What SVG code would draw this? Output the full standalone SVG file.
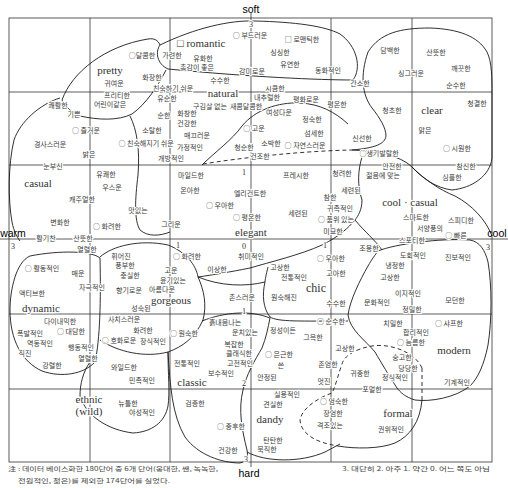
<svg xmlns="http://www.w3.org/2000/svg" width="508" height="488" viewBox="0 0 508 488">
<style>
.g{stroke:#333;stroke-width:0.8;fill:none}
.c{stroke:#1a1a1a;stroke-width:0.9;fill:none}
.d{stroke:#1a1a1a;stroke-width:0.9;fill:none;stroke-dasharray:4 3}
.k{font-family:"Noto Sans CJK KR","Noto Sans",sans-serif;font-size:7px;fill:#3a3a3a;text-anchor:middle;stroke:#fff;stroke-width:2.2;paint-order:stroke;stroke-linejoin:round}
.e{font-family:"Liberation Serif",serif;font-size:11px;fill:#333;text-anchor:middle;stroke:#fff;stroke-width:2.5;paint-order:stroke;stroke-linejoin:round}
.a{font-family:"Liberation Sans",sans-serif;font-size:10.5px;fill:#000;text-anchor:middle}
.n{font-family:"Liberation Serif",serif;font-size:8px;fill:#333;text-anchor:middle;stroke:#fff;stroke-width:2;paint-order:stroke}
.f{font-family:"Noto Sans CJK KR","Noto Sans",sans-serif;font-size:6px;fill:#444}
</style>
<rect width="508" height="488" fill="#fff"/>
<g id="grid">
<rect class="g" x="9" y="18" width="483" height="444"/>
<path class="g" d="M90,18V462M170,18V462M331,18V462M412,18V462M9,92H492M9,165H492M9,314H492M9,389H492"/>
<path class="g" d="M251,13V467M0,239H508" stroke-width="1"/>
</g>
<g id="connectors">
<path id="pretty-line" class="c" d="M62,100 C72,72 105,46 148,39 C154,38 158,40 160,45 M166,70 C158,86 146,104 132,114 C118,121 98,120 80,116 C72,113 66,107 62,100"/>
<path id="casual-line" class="c" d="M60,98 C40,104 20,122 14,140 C8,165 8,200 12,222 C14,232 17,237 20,241 M130,116 C137,130 140,150 138,175 C135,200 134,220 140,230 C148,237 160,236 170,232"/>
<path id="romantic-line" class="c" d="M160,45 C195,28 230,20 255,21 C295,22 325,26 340,34 C357,46 362,68 353,80 C320,80 250,77 168,69 C157,64 155,52 160,45 Z"/>
<path id="clear-line" class="c" d="M368,52 C380,33 400,28 430,28 C458,29 478,36 487,52 C492,62 492,78 492,95 L492,158 C490,176 472,188 452,190 C436,188 422,178 412,167 M368,52 C360,75 362,95 372,108 C380,118 386,128 386,136 C385,144 375,148 352,150"/>
<path id="elegant-top" class="c" d="M202,165 C215,152 232,140 242,126 C255,110 278,102 300,103 C320,104 335,112 348,124"/>
<path id="natural-bottom" class="d" d="M203,164 C240,158 300,151 352,150"/>
<path id="coolcasual-line" class="c" d="M352,150 C375,151 400,155 412,167 C425,180 440,190 455,196 C472,205 486,220 492,236 M362,157 C358,170 357,185 362,200 C362,210 358,216 355,220 C365,232 375,240 382,250"/>
<path id="chic-top" class="c" d="M355,220 C348,228 340,236 322,245 C300,255 270,262 250,268 C230,272 212,275 198,277"/>
<path id="gorgeous-line" class="c" d="M100,257 C112,246 140,239 168,245 C186,252 196,265 198,277 C204,290 207,305 203,320 C195,338 182,347 168,352 C145,358 118,352 100,340"/>
<path id="astroid" class="c" d="M198,277 C220,286 245,287 265,282 M268,267 C266,275 265,280 265,282 C262,295 263,308 270,317 C278,322 300,321 348,321 M202,321 C225,312 250,310 270,318"/>
<path id="classic-line" class="c" d="M168,352 C170,385 172,415 185,437 C198,455 222,463 240,463 C248,461 248,456 247,450 C242,430 238,410 243,390 C246,375 255,360 262,348 C266,338 268,328 270,318"/>
<path id="dandy-line" class="c" d="M247,452 C265,462 300,463 325,452 L340,444"/>
<path id="formal-dash" class="d" d="M422,368 C415,352 390,343 372,346 C355,349 344,356 342,364 C338,375 336,385 332,393 C318,398 302,408 300,420 C301,432 312,442 338,446 M422,368 L422,400"/>
<path id="formal-line" class="c" d="M338,446 C355,449 380,449 395,443 C410,436 420,422 422,400"/>
<path id="modern-line" class="c" d="M378,251 C395,244 440,238 470,240 C480,242 485,250 488,262 C492,285 492,320 488,345 C484,365 478,378 470,386 C455,398 430,402 415,400 C405,397 400,392 397,388 C388,374 382,364 375,352 C365,340 350,330 348,315 C350,300 360,280 368,266 C372,259 375,255 378,251 Z"/>
<path id="dynamic-line" class="c" d="M100,258 C92,251 60,250 30,256 C16,262 10,290 10,310 C10,340 22,362 42,371 C62,378 84,374 95,362 C100,340 101,300 100,258 Z"/>
<path id="ethnic-line" class="c" d="M90,362 C83,372 80,384 80,396 C86,416 108,430 133,433 C152,432 165,422 168,406 C170,392 168,375 168,352"/>
</g>
<g id="axis-labels">
<text class="a" x="251" y="13">soft</text>
<text class="a" x="249" y="477">hard</text>
<text class="a" x="13" y="237">warm</text>
<text class="a" x="497" y="237">cool</text>
<text class="n" x="251" y="27">3</text>
<text class="n" x="13" y="249">3</text>
<text class="n" x="488" y="250">3</text>
<text class="n" x="246" y="462">3</text>
<text class="n" x="244" y="175">1</text>
<text class="n" x="178" y="248">1</text>
<text class="n" x="244" y="249">0</text>
<text class="n" x="325" y="248">1</text>
<text class="n" x="244" y="314">1</text>
<text class="n" x="244" y="386">2</text>
</g>
<g id="node-pretty">
<text class="e" x="110" y="74">pretty</text>
<text class="k" x="142" y="57.5">○달콤한</text>
<text class="k" x="114" y="85.5">귀여운</text>
<text class="k" x="152" y="79.5">화장한</text>
<text class="k" x="173" y="90.5">친숙하기 쉬운</text>
<text class="k" x="117" y="98">프리티한</text>
<text class="k" x="110" y="107">어린이같은</text>
<text class="k" x="58" y="107.5">쾌활한</text>
<text class="k" x="74" y="116.5">기쁜</text>
<text class="k" x="167" y="100.5">유순한</text>
<text class="k" x="164" y="117.5">순한</text>
</g>
<g id="node-romantic">
<text class="e" x="177" y="47" style="text-anchor:start">□ romantic</text>
<text class="k" x="250" y="37.5">○ 부드러운</text>
<text class="k" x="302" y="41.5">□ 로맨틱한</text>
<text class="k" x="280" y="54.5">싱싱한</text>
<text class="k" x="172" y="57.5">가련한</text>
<text class="k" x="203" y="60.5">유화한</text>
<text class="k" x="197" y="69.5">촉감이 좋은</text>
<text class="k" x="290" y="66.5">유연한</text>
<text class="k" x="252" y="73.5">감미로운</text>
<text class="k" x="328" y="72.5">동화적인</text>
<text class="k" x="360" y="85.5">간소한</text>
<text class="k" x="220" y="82.5">수수한</text>
</g>
<g id="node-natural">
<text class="e" x="223" y="97">natural</text>
<text class="k" x="275" y="90.5">시큼한</text>
<text class="k" x="210" y="109">구김살 없는</text>
<text class="k" x="246" y="109">새콤달콤한</text>
<text class="k" x="267" y="100">내추럴한</text>
<text class="k" x="306" y="101.5">평화로운</text>
<text class="k" x="337" y="106.5">평온한</text>
<text class="k" x="279" y="114.5">여성다운</text>
<text class="k" x="312" y="121.5">정숙한</text>
<text class="k" x="187" y="115.5">화창한</text>
<text class="k" x="187" y="125.5">건강한</text>
<text class="k" x="197" y="137.5">매끄러운</text>
<text class="k" x="254" y="130.5">○ 고운</text>
<text class="k" x="314" y="135.5">섬세한</text>
<text class="k" x="190" y="149.5">가정적인</text>
<text class="k" x="244" y="149.5">청순한</text>
<text class="k" x="271" y="145.5">소박한</text>
<text class="k" x="305" y="147.5">○ 자연스러운</text>
<text class="k" x="260" y="158.5">건조한</text>
<text class="k" x="171" y="160.5">개방적인</text>
</g>
<g id="node-clear">
<text class="e" x="432" y="114">clear</text>
<text class="k" x="390" y="52.5">담백한</text>
<text class="k" x="436" y="54.5">산뜻한</text>
<text class="k" x="411" y="75.5">싱그러운</text>
<text class="k" x="461" y="70.5">깨끗한</text>
<text class="k" x="456" y="87.5">순수한</text>
<text class="k" x="477" y="105.5">청결한</text>
<text class="k" x="392" y="112.5">청초한</text>
<text class="k" x="425" y="132.5">맑은</text>
<text class="k" x="457" y="150.5">○ 시원한</text>
<text class="k" x="466" y="168.5">참신한</text>
<text class="k" x="452" y="179.5">심플한</text>
<text class="k" x="362" y="140.5">신선한</text>
<text class="k" x="379" y="155.5">○생기발랄한</text>
<text class="k" x="392" y="168.5">안전한</text>
</g>
<g id="node-casual">
<text class="e" x="38" y="187">casual</text>
<text class="k" x="86" y="132.5">○ 즐거운</text>
<text class="k" x="152" y="132.5">소탈한</text>
<text class="k" x="50" y="146.5">경사스러운</text>
<text class="k" x="146" y="145.5">○ 친숙해지기 쉬운</text>
<text class="k" x="89" y="156.5">밝은</text>
<text class="k" x="53" y="168.5">눈부신</text>
<text class="k" x="106" y="176.5">유쾌한</text>
<text class="k" x="112" y="189.5">우스운</text>
<text class="k" x="82" y="201.5">캐주얼한</text>
<text class="k" x="138" y="212.5">맛있는</text>
<text class="k" x="60" y="224.5">변화한</text>
<text class="k" x="107" y="228.5">○ 화려한</text>
<text class="k" x="171" y="226.5">그리운</text>
<text class="k" x="46" y="240.5">활기찬</text>
<text class="k" x="83" y="240.5">산뜻한</text>
</g>
<g id="node-elegant">
<text class="e" x="251" y="236">elegant</text>
<text class="k" x="191" y="177.5">마일드한</text>
<text class="k" x="296" y="177.5">프레시한</text>
<text class="k" x="190" y="192.5">온아한</text>
<text class="k" x="250" y="195.5">엘리건트한</text>
<text class="k" x="220" y="207.5">○ 우아한</text>
<text class="k" x="330" y="199.5">참한</text>
<text class="k" x="298" y="215.5">세련된</text>
<text class="k" x="247" y="219.5">○ 평온한</text>
<text class="k" x="336" y="221.5">○ 품위 있는</text>
<text class="k" x="340" y="210.5">귀족적인</text>
<text class="k" x="333" y="233.5">미묘한</text>
</g>
<g id="node-coolcasual">
<text class="e" x="410" y="206">cool · casual</text>
<text class="k" x="342" y="175.5">청려한</text>
<text class="k" x="383" y="177.5">젊음에 맞는</text>
<text class="k" x="351" y="192.5">세련된</text>
<text class="k" x="416" y="219.5">스마트한</text>
<text class="k" x="461" y="222.5">스피디한</text>
<text class="k" x="430" y="230.5">서양풍의</text>
<text class="k" x="456" y="237.5">○ 빠른</text>
<text class="k" x="412" y="242.5">스포티한</text>
</g>
<g id="node-dynamic">
<text class="e" x="41" y="312">dynamic</text>
<text class="k" x="87" y="251.5">열렬한</text>
<text class="k" x="42" y="270.5">○ 활동적인</text>
<text class="k" x="78" y="275.5">매운</text>
<text class="k" x="92" y="289.5">자극적인</text>
<text class="k" x="32" y="295.5">액티브한</text>
<text class="k" x="60" y="323.5">다이내믹한</text>
<text class="k" x="30" y="335.5">폭발적인</text>
<text class="k" x="71" y="333.5">○ 대담한</text>
<text class="k" x="40" y="345.5">역동적인</text>
<text class="k" x="81" y="349.5">행동적인</text>
<text class="k" x="25" y="355.5">직진</text>
<text class="k" x="88" y="360.5">열렬한</text>
<text class="k" x="52" y="367.5">강렬한</text>
</g>
<g id="node-gorgeous">
<text class="e" x="171" y="304">gorgeous</text>
<text class="k" x="121" y="258.5">휘어진</text>
<text class="k" x="125" y="267.5">풍부한</text>
<text class="k" x="130" y="277.5">충실한</text>
<text class="k" x="171" y="272.5">고운</text>
<text class="k" x="173" y="282.5">윤기있는</text>
<text class="k" x="129" y="292.5">향기로운</text>
<text class="k" x="162" y="291.5">아름다운</text>
<text class="k" x="141" y="310.5">성숙된</text>
<text class="k" x="124" y="321.5">사치스러운</text>
<text class="k" x="143" y="332.5">화려한</text>
<text class="k" x="119" y="342.5">○ 호화로운</text>
<text class="k" x="153" y="343.5">장식적인</text>
<text class="k" x="187" y="258.5">○ 화려한</text>
<text class="k" x="251" y="258.5">취미적인</text>
<text class="k" x="217" y="271.5">이상한</text>
<text class="k" x="242" y="299.5">촌스러운</text>
</g>
<g id="node-ethnic">
<text class="e" x="89" y="403">ethnic</text>
<text class="e" x="89" y="415">(wild)</text>
<text class="k" x="124" y="369.5">와일드한</text>
<text class="k" x="142" y="382.5">민족적인</text>
<text class="k" x="128" y="405.5">뉴틀한</text>
<text class="k" x="142" y="414.5">야성적인</text>
</g>
<g id="node-chic">
<text class="e" x="316" y="292" style="font-size:12px">chic</text>
<text class="k" x="331" y="260.5">○ 우아한</text>
<text class="k" x="280" y="269.5">고상한</text>
<text class="k" x="294" y="279.5">전통적인</text>
<text class="k" x="336" y="275.5">고아한</text>
<text class="k" x="284" y="299.5">원숙해진</text>
<text class="k" x="336" y="305.5">수수한</text>
</g>
<g id="node-classic">
<text class="e" x="192" y="386">classic</text>
<text class="k" x="225" y="324.5">흙내음나는</text>
<text class="k" x="331" y="323.5">○ 순수한</text>
<text class="k" x="184" y="335.5">○ 원숙한</text>
<text class="k" x="245" y="334.5">운치있는</text>
<text class="k" x="283" y="332.5">정성이든</text>
<text class="k" x="313" y="339.5">그윽한</text>
<text class="k" x="234" y="346.5">복잡한</text>
<text class="k" x="239" y="355.5">클래식한</text>
<text class="k" x="279" y="356.5">○ 은근한</text>
<text class="k" x="240" y="365.5">고전적인</text>
<text class="k" x="187" y="365.5">전통적인</text>
<text class="k" x="221" y="375.5">보수적인</text>
<text class="k" x="195" y="405.5">검증한</text>
<text class="k" x="231" y="428.5">○ 중후한</text>
<text class="k" x="228" y="452.5">건강한</text>
</g>
<g id="node-dandy">
<text class="e" x="270" y="423">dandy</text>
<text class="k" x="281" y="367.5">쓴</text>
<text class="k" x="267" y="379.5">안정된</text>
<text class="k" x="287" y="396.5">실용적인</text>
<text class="k" x="273" y="406.5">견실한</text>
<text class="k" x="273" y="442.5">탄탄한</text>
<text class="k" x="267" y="451.5">묵직한</text>
</g>
<g id="node-formal">
<text class="e" x="398" y="417">formal</text>
<text class="k" x="328" y="366.5">존엄한</text>
<text class="k" x="324" y="383.5">멋진</text>
<text class="k" x="360" y="375.5">귀중한</text>
<text class="k" x="372" y="391.5">포멀한</text>
<text class="k" x="334" y="403.5">○ 엄숙한</text>
<text class="k" x="333" y="415.5">장엄한</text>
<text class="k" x="330" y="427.5">격조있는</text>
<text class="k" x="391" y="431.5">권위적인</text>
</g>
<g id="node-modern">
<text class="e" x="454" y="354">modern</text>
<text class="k" x="369" y="250.5">조용한</text>
<text class="k" x="413" y="257.5">도회적인</text>
<text class="k" x="458" y="259.5">진보적인</text>
<text class="k" x="395" y="267.5">냉정한</text>
<text class="k" x="390" y="279.5">고상한</text>
<text class="k" x="408" y="295.5">이지적인</text>
<text class="k" x="455" y="302.5">모던한</text>
<text class="k" x="377" y="304.5">문화적인</text>
<text class="k" x="412" y="311.5">정밀한</text>
<text class="k" x="393" y="325.5">치밀한</text>
<text class="k" x="449" y="325.5">○ 샤프한</text>
<text class="k" x="416" y="334.5">합리적인</text>
<text class="k" x="411" y="344.5">○ 늠름한</text>
<text class="k" x="345" y="350.5">고상한</text>
<text class="k" x="402" y="359.5">숭고한</text>
<text class="k" x="408" y="370.5">당당한</text>
<text class="k" x="395" y="379.5">정식적인</text>
<text class="k" x="457" y="384.5">기계적인</text>
</g>
<g id="notes">
<text class="f" x="8" y="471" textLength="210" lengthAdjust="spacingAndGlyphs">注 : 데이터 베이스화한 180단어 중 6개 단어(웅대한, 쌘, 녹녹한,</text>
<text class="f" x="18" y="483" textLength="152" lengthAdjust="spacingAndGlyphs">전원적인, 젊은)를 제외한 174단어를 실었다.</text>
<text class="f" x="342" y="471" textLength="148" lengthAdjust="spacingAndGlyphs">3. 대단히 2. 아주 1. 약간 0. 어느 쪽도 아님</text>
</g>
</svg>
